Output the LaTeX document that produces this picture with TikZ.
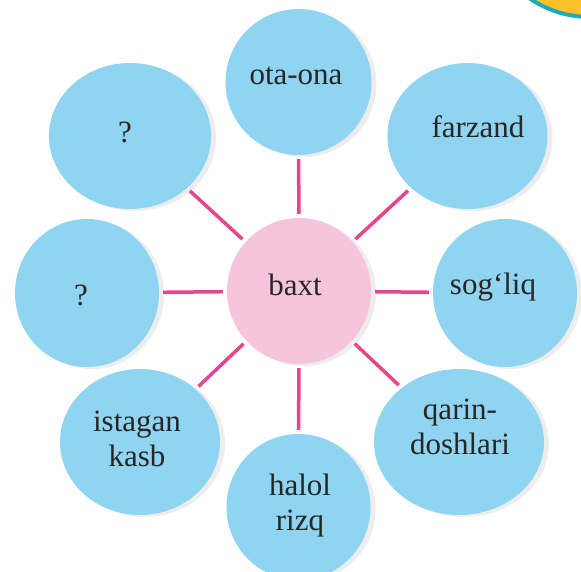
\documentclass[tikz,border=0pt]{standalone}
\usepackage{fontspec}
\setmainfont{Liberation Serif}
\usetikzlibrary{shapes.geometric,shadows}
\definecolor{bubble}{RGB}{143,212,241}
\definecolor{core}{RGB}{246,196,220}
\definecolor{spoke}{RGB}{230,68,140}
\definecolor{sunfill}{RGB}{253,192,40}
\definecolor{sunline}{RGB}{26,172,190}
\tikzset{
  bub/.style={ellipse,fill=bubble,inner sep=0pt,
    drop shadow={shadow xshift=5pt,shadow yshift=-2pt,fill=black!14}},
  word/.style={align=center,inner sep=0pt,text=black!85,font=\fontsize{31}{35}\selectfont},
  spk/.style={draw=spoke,line width=3.5pt,shorten >=4pt,shorten <=4pt}
}
\begin{document}
\begin{tikzpicture}[x=1pt,y=-1pt]
\useasboundingbox (0,0) rectangle (581,571);
\draw[draw=sunline,fill=sunfill,line width=4pt] (590,-90) circle[radius=107pt];

\node[bub,fill=core,minimum width=144pt,minimum height=146pt] (baxt) at (299,291) {};
\node[bub,minimum width=146pt,minimum height=146pt] (ota) at (298.5,82) {};
\node[bub,minimum width=160pt,minimum height=146pt] (farzand) at (467.5,136) {};
\node[bub,minimum width=162pt,minimum height=146pt] (q1) at (130,136) {};
\node[bub,minimum width=144pt,minimum height=148pt] (q2) at (87,293) {};
\node[bub,minimum width=144pt,minimum height=148pt] (sogliq) at (505,293) {};
\node[bub,minimum width=160pt,minimum height=146pt] (istagan) at (140,442) {};
\node[bub,minimum width=170pt,minimum height=146pt] (qarin) at (459,442) {};
\node[bub,minimum width=144pt,minimum height=146pt] (halol) at (298.5,507) {};

\node[word] (baxt-t) at (295,285) {baxt};
\node[word] (ota-t) at (296,76) {ota-ona};
\node[word] (farzand-t) at (478,127) {farzand};
\node[word] (q1-t) at (125,132) {?};
\node[word] (q2-t) at (81,295) {?};
\node[word] (sogliq-t) at (493,287) {sog‘liq};
\node[word] (istagan-t) at (137,439) {istagan\\kasb};
\node[word] (qarin-t) at (460,427) {qarin-\\doshlari};
\node[word] (halol-t) at (300,506) {halol\\rizq};

\draw[spk] (baxt) -- (ota);
\draw[spk] (baxt) -- (farzand);
\draw[spk] (baxt) -- (sogliq);
\draw[spk] (baxt) -- (qarin);
\draw[spk] (baxt) -- (halol);
\draw[spk] (baxt) -- (istagan);
\draw[spk] (baxt) -- (q2);
\draw[spk] (baxt) -- (q1);
\end{tikzpicture}
\end{document}
